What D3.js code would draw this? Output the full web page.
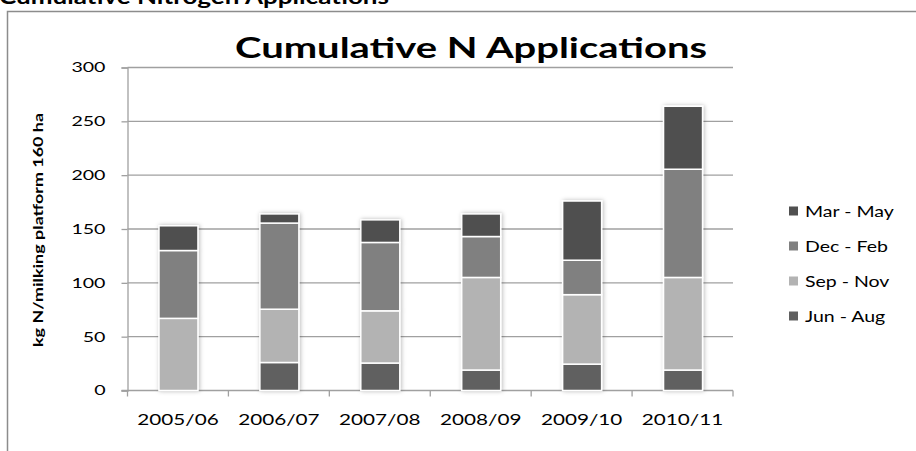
<!DOCTYPE html>
<html>
<head>
<meta charset="utf-8">
<script src="https://cdn.jsdelivr.net/npm/d3@7"></script>
<style>
  html, body { margin: 0; padding: 0; background: #fff; }
  svg { display: block; }
  text { font-family: Lato, "Open Sans", sans-serif; fill: #000; }
</style>
</head>
<body>
<svg id="chart" width="916" height="451"></svg>
<script>
// Seasonal N applications (kg N / ha) by season year
const categories = ["2005/06", "2006/07", "2007/08", "2008/09", "2009/10", "2010/11"];
const junAug = [0, 26, 25.5, 19, 24.5, 19];
const sepNov = [67, 49.5, 48.5, 86, 64.5, 86];
const decFeb = [63, 80, 63.5, 38, 32, 100.5];
const marMay = [23, 8.5, 21, 21, 55, 58.5];
const seriesNames = ["Jun - Aug", "Sep - Nov", "Dec - Feb", "Mar - May"];
const yTicks = [0, 50, 100, 150, 200, 250, 300];

const colors = { "Jun - Aug": "#606060", "Sep - Nov": "#b3b3b3", "Dec - Feb": "#808080", "Mar - May": "#505050" };

const rows = categories.map((c, i) => ({
  cat: c,
  "Jun - Aug": junAug[i],
  "Sep - Nov": sepNov[i],
  "Dec - Feb": decFeb[i],
  "Mar - May": marMay[i]
}));

const svg = d3.select("#chart");
const plotLeft = 127.5, plotRight = 733, plotTop = 67.5, plotBottom = 390.5;

const x = d3.scaleBand().domain(categories).range([plotLeft, plotRight]).padding(0);
const y = d3.scaleLinear().domain([0, 300]).range([plotBottom, plotTop]);

// stretch helper: widen glyphs horizontally by factor k
function stretch(sel, k) {
  sel.each(function () {
    const w = this.getComputedTextLength();
    d3.select(this).attr("textLength", w * k).attr("lengthAdjust", "spacingAndGlyphs");
  });
}

// outer frame
svg.append("path")
  .attr("d", "M7.5,460 V11.5 H930")
  .attr("fill", "none").attr("stroke", "#8c8c8c").attr("stroke-width", 1.5);

// heading above the frame
const head = svg.append("text")
  .attr("x", -1).attr("y", 3.5)
  .attr("font-weight", "bold").attr("font-size", 20)
  .text("Cumulative Nitrogen Applications");
head.attr("textLength", 390).attr("lengthAdjust", "spacingAndGlyphs");

// gridlines
svg.append("g").selectAll("line").data(yTicks.filter(d => d > 0)).join("line")
  .attr("x1", plotLeft).attr("x2", plotRight)
  .attr("y1", d => y(d)).attr("y2", d => y(d))
  .attr("stroke", "#a0a0a0").attr("stroke-width", 1.3);

// y axis
const yAxis = svg.append("g").attr("transform", `translate(${plotLeft},0)`)
  .call(d3.axisLeft(y).tickValues(yTicks).tickSize(6).tickPadding(16));
yAxis.select(".domain").attr("stroke", "#a0a0a0").attr("stroke-width", 1.3);
yAxis.selectAll(".tick line").attr("stroke", "#a0a0a0").attr("stroke-width", 1.3);
yAxis.selectAll(".tick text")
  .attr("font-family", "Lato, sans-serif").attr("font-size", 14).attr("fill", "#000");
stretch(yAxis.selectAll(".tick text"), 1.4);

// x axis with ticks at category boundaries
const xAxisG = svg.append("g");
xAxisG.append("line")
  .attr("x1", plotLeft - 6).attr("x2", plotRight).attr("y1", plotBottom).attr("y2", plotBottom)
  .attr("stroke", "#a0a0a0").attr("stroke-width", 1.3);
const bounds = categories.map(c => x(c)).concat([x(categories[categories.length - 1]) + x.bandwidth()]);
xAxisG.selectAll("line.tk").data(bounds).join("line").attr("class", "tk")
  .attr("x1", d => d).attr("x2", d => d).attr("y1", plotBottom).attr("y2", plotBottom + 6)
  .attr("stroke", "#a0a0a0").attr("stroke-width", 1.3);
const xl = xAxisG.selectAll("text").data(categories).join("text")
  .attr("x", d => x(d) + x.bandwidth() / 2).attr("y", 425)
  .attr("text-anchor", "middle").attr("font-size", 15)
  .text(d => d);
stretch(xl, 1.38);

// bar shadow
const defs = svg.append("defs");
const f = defs.append("filter").attr("id", "shadow")
  .attr("x", "-30%").attr("y", "-10%").attr("width", "160%").attr("height", "120%");
f.append("feDropShadow").attr("dx", 1).attr("dy", 0).attr("stdDeviation", 2)
  .attr("flood-color", "#000").attr("flood-opacity", 0.28);

// stacked bars
const stack = d3.stack().keys(seriesNames)(rows);
const barW = 39;
const bars = svg.append("g").attr("filter", "url(#shadow)");
stack.forEach(layer => {
  bars.append("g").attr("fill", colors[layer.key])
    .selectAll("rect").data(layer.filter(d => d[1] - d[0] > 0)).join("rect")
    .attr("x", d => x(d.data.cat) + x.bandwidth() / 2 - barW / 2 + 0.5)
    .attr("width", barW)
    .attr("y", d => y(d[1]))
    .attr("height", d => y(d[0]) - y(d[1]))
    .attr("stroke", "#fff").attr("stroke-width", 1.5);
});

// chart title
const title = svg.append("text")
  .attr("x", 471).attr("y", 58)
  .attr("text-anchor", "middle").attr("font-weight", "bold").attr("font-size", 29)
  .text("Cumulative N Applications");
title.attr("textLength", 472).attr("lengthAdjust", "spacingAndGlyphs");

// y axis title
const yt = svg.append("text")
  .attr("transform", "translate(43,230) rotate(-90)")
  .attr("text-anchor", "middle").attr("font-weight", "bold").attr("font-size", 13)
  .text("kg N/milking platform 160 ha");
yt.attr("textLength", 234).attr("lengthAdjust", "spacingAndGlyphs");

// legend, top entry = top of stack
const legendItems = seriesNames.slice().reverse();
const lg = svg.append("g").selectAll("g").data(legendItems).join("g")
  .attr("transform", (d, i) => `translate(789,${211.5 + i * 35})`);
lg.append("rect").attr("x", 0).attr("y", -5).attr("width", 9).attr("height", 9)
  .attr("fill", d => colors[d]);
const lt = lg.append("text").attr("x", 16).attr("y", 5).attr("font-size", 15).text(d => d);
stretch(lt, 1.3);
</script>
</body>
</html>
